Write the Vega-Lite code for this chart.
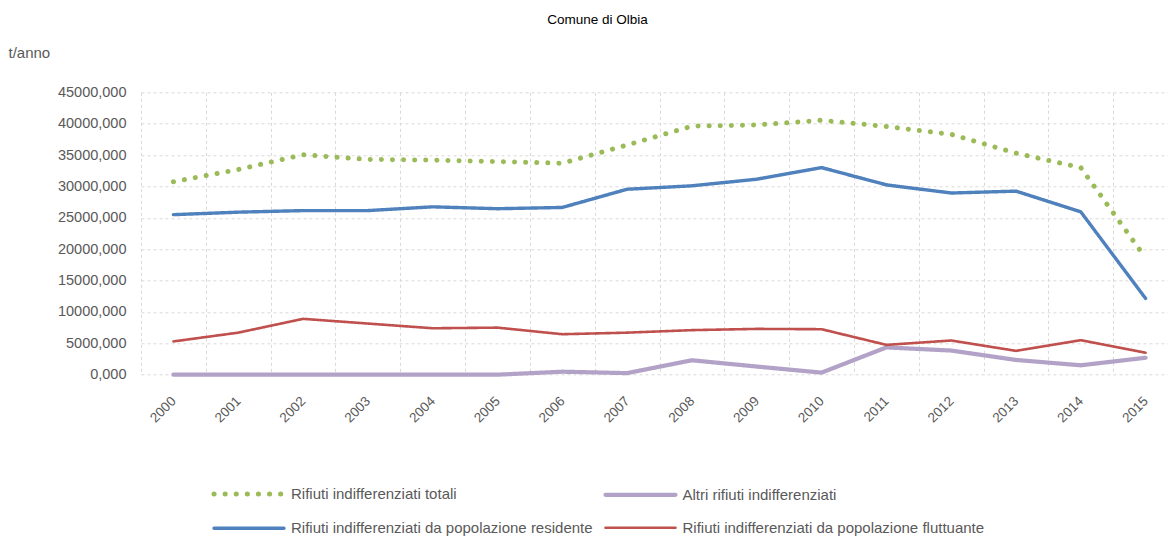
{
  "$schema": "https://vega.github.io/schema/vega-lite/v6.json",
  "autosize": {"type": "none"},
  "width": 1037,
  "height": 282.4,
  "padding": {"left": 141, "top": 92.3, "right": 0, "bottom": 163.3},
  "background": "white",
  "title": {
    "text": "Comune di Olbia",
    "font": "Liberation Sans",
    "fontSize": 13.5,
    "fontWeight": "normal",
    "color": "#000000",
    "anchor": "middle",
    "frame": "group",
    "dx": -62,
    "offset": 19
  },
  "config": {
    "locale": {"number": {"decimal": ",", "thousands": ".", "grouping": [3], "currency": ["€", ""]}},
    "view": {"stroke": null}
  },
  "data": {
    "values": [
      {"anno": "2000", "serie": "Rifiuti indifferenziati totali", "valore": 30750},
      {"anno": "2001", "serie": "Rifiuti indifferenziati totali", "valore": 32700},
      {"anno": "2002", "serie": "Rifiuti indifferenziati totali", "valore": 35050},
      {"anno": "2003", "serie": "Rifiuti indifferenziati totali", "valore": 34300},
      {"anno": "2004", "serie": "Rifiuti indifferenziati totali", "valore": 34200},
      {"anno": "2005", "serie": "Rifiuti indifferenziati totali", "valore": 33950},
      {"anno": "2006", "serie": "Rifiuti indifferenziati totali", "valore": 33700},
      {"anno": "2007", "serie": "Rifiuti indifferenziati totali", "valore": 36600},
      {"anno": "2008", "serie": "Rifiuti indifferenziati totali", "valore": 39600},
      {"anno": "2009", "serie": "Rifiuti indifferenziati totali", "valore": 39800},
      {"anno": "2010", "serie": "Rifiuti indifferenziati totali", "valore": 40550},
      {"anno": "2011", "serie": "Rifiuti indifferenziati totali", "valore": 39550},
      {"anno": "2012", "serie": "Rifiuti indifferenziati totali", "valore": 38300},
      {"anno": "2013", "serie": "Rifiuti indifferenziati totali", "valore": 35300},
      {"anno": "2014", "serie": "Rifiuti indifferenziati totali", "valore": 33000},
      {"anno": "2015", "serie": "Rifiuti indifferenziati totali", "valore": 18600},
      {"anno": "2000", "serie": "Altri rifiuti indifferenziati", "valore": 0},
      {"anno": "2001", "serie": "Altri rifiuti indifferenziati", "valore": 0},
      {"anno": "2002", "serie": "Altri rifiuti indifferenziati", "valore": 0},
      {"anno": "2003", "serie": "Altri rifiuti indifferenziati", "valore": 0},
      {"anno": "2004", "serie": "Altri rifiuti indifferenziati", "valore": 0},
      {"anno": "2005", "serie": "Altri rifiuti indifferenziati", "valore": 0},
      {"anno": "2006", "serie": "Altri rifiuti indifferenziati", "valore": 480},
      {"anno": "2007", "serie": "Altri rifiuti indifferenziati", "valore": 250},
      {"anno": "2008", "serie": "Altri rifiuti indifferenziati", "valore": 2300},
      {"anno": "2009", "serie": "Altri rifiuti indifferenziati", "valore": 1300},
      {"anno": "2010", "serie": "Altri rifiuti indifferenziati", "valore": 330},
      {"anno": "2011", "serie": "Altri rifiuti indifferenziati", "valore": 4350},
      {"anno": "2012", "serie": "Altri rifiuti indifferenziati", "valore": 3850},
      {"anno": "2013", "serie": "Altri rifiuti indifferenziati", "valore": 2350},
      {"anno": "2014", "serie": "Altri rifiuti indifferenziati", "valore": 1500},
      {"anno": "2015", "serie": "Altri rifiuti indifferenziati", "valore": 2700},
      {"anno": "2000", "serie": "Rifiuti indifferenziati da popolazione residente", "valore": 25500},
      {"anno": "2001", "serie": "Rifiuti indifferenziati da popolazione residente", "valore": 25900},
      {"anno": "2002", "serie": "Rifiuti indifferenziati da popolazione residente", "valore": 26150},
      {"anno": "2003", "serie": "Rifiuti indifferenziati da popolazione residente", "valore": 26150},
      {"anno": "2004", "serie": "Rifiuti indifferenziati da popolazione residente", "valore": 26750},
      {"anno": "2005", "serie": "Rifiuti indifferenziati da popolazione residente", "valore": 26450},
      {"anno": "2006", "serie": "Rifiuti indifferenziati da popolazione residente", "valore": 26650},
      {"anno": "2007", "serie": "Rifiuti indifferenziati da popolazione residente", "valore": 29550},
      {"anno": "2008", "serie": "Rifiuti indifferenziati da popolazione residente", "valore": 30100},
      {"anno": "2009", "serie": "Rifiuti indifferenziati da popolazione residente", "valore": 31150},
      {"anno": "2010", "serie": "Rifiuti indifferenziati da popolazione residente", "valore": 33000},
      {"anno": "2011", "serie": "Rifiuti indifferenziati da popolazione residente", "valore": 30250},
      {"anno": "2012", "serie": "Rifiuti indifferenziati da popolazione residente", "valore": 28950},
      {"anno": "2013", "serie": "Rifiuti indifferenziati da popolazione residente", "valore": 29250},
      {"anno": "2014", "serie": "Rifiuti indifferenziati da popolazione residente", "valore": 25950},
      {"anno": "2015", "serie": "Rifiuti indifferenziati da popolazione residente", "valore": 12150},
      {"anno": "2000", "serie": "Rifiuti indifferenziati da popolazione fluttuante", "valore": 5300},
      {"anno": "2001", "serie": "Rifiuti indifferenziati da popolazione fluttuante", "valore": 6700},
      {"anno": "2002", "serie": "Rifiuti indifferenziati da popolazione fluttuante", "valore": 8900},
      {"anno": "2003", "serie": "Rifiuti indifferenziati da popolazione fluttuante", "valore": 8150},
      {"anno": "2004", "serie": "Rifiuti indifferenziati da popolazione fluttuante", "valore": 7400},
      {"anno": "2005", "serie": "Rifiuti indifferenziati da popolazione fluttuante", "valore": 7500},
      {"anno": "2006", "serie": "Rifiuti indifferenziati da popolazione fluttuante", "valore": 6450},
      {"anno": "2007", "serie": "Rifiuti indifferenziati da popolazione fluttuante", "valore": 6700},
      {"anno": "2008", "serie": "Rifiuti indifferenziati da popolazione fluttuante", "valore": 7100},
      {"anno": "2009", "serie": "Rifiuti indifferenziati da popolazione fluttuante", "valore": 7300},
      {"anno": "2010", "serie": "Rifiuti indifferenziati da popolazione fluttuante", "valore": 7250},
      {"anno": "2011", "serie": "Rifiuti indifferenziati da popolazione fluttuante", "valore": 4750},
      {"anno": "2012", "serie": "Rifiuti indifferenziati da popolazione fluttuante", "valore": 5450},
      {"anno": "2013", "serie": "Rifiuti indifferenziati da popolazione fluttuante", "valore": 3800},
      {"anno": "2014", "serie": "Rifiuti indifferenziati da popolazione fluttuante", "valore": 5500},
      {"anno": "2015", "serie": "Rifiuti indifferenziati da popolazione fluttuante", "valore": 3500}
    ]
  },
  "mark": {"type": "line", "strokeCap": "round", "strokeJoin": "round"},
  "encoding": {
    "x": {
      "field": "anno",
      "type": "ordinal",
      "scale": {"type": "band", "paddingInner": 0, "paddingOuter": 0},
      "axis": {
        "title": null,
        "grid": true,
        "tickBand": "extent",
        "gridColor": "#d9d9d9",
        "gridDash": [3, 3],
        "gridWidth": 1,
        "ticks": false,
        "domain": false,
        "labelAngle": -45,
        "labelAlign": "right",
        "labelBaseline": "middle",
        "labelPadding": 24,
        "labelFont": "Liberation Sans",
        "labelFontSize": 13.5,
        "labelColor": "#595959"
      }
    },
    "y": {
      "field": "valore",
      "type": "quantitative",
      "scale": {"domain": [0, 45000], "nice": false, "zero": true},
      "axis": {
        "values": [0, 5000, 10000, 15000, 20000, 25000, 30000, 35000, 40000, 45000],
        "format": ".3f",
        "grid": true,
        "gridColor": "#d9d9d9",
        "gridDash": [3, 3],
        "gridWidth": 1,
        "ticks": false,
        "domain": false,
        "labelPadding": 15,
        "labelFont": "Liberation Sans",
        "labelFontSize": 14.5,
        "labelColor": "#595959",
        "title": "t/anno",
        "titleAngle": 0,
        "titleAlign": "left",
        "titleBaseline": "middle",
        "titleX": -133,
        "titleY": -40,
        "titleFont": "Liberation Sans",
        "titleFontSize": 15,
        "titleFontWeight": "normal",
        "titleColor": "#595959"
      }
    },
    "color": {
      "field": "serie",
      "type": "nominal",
      "title": null,
      "scale": {
        "domain": ["Rifiuti indifferenziati totali", "Altri rifiuti indifferenziati", "Rifiuti indifferenziati da popolazione residente", "Rifiuti indifferenziati da popolazione fluttuante"],
        "range": ["#9BBB59", "#B3A2C7", "#4F81BD", "#C0504D"]
      },
      "legend": {
        "orient": "none",
        "direction": "horizontal",
        "legendX": 95.5,
        "legendY": 389,
        "columns": 2,
        "symbolType": "M-3.5,0H3.5",
        "symbolSize": 400,
        "labelFont": "Liberation Sans",
        "labelFontSize": 15,
        "labelColor": "#595959",
        "labelOffset": 29.5,
        "labelLimit": 500,
        "columnPadding": 3.5,
        "rowPadding": 12,
        "encode": {"symbols": {"update": {"strokeCap": {"value": "round"}}}}
      }
    },
    "strokeDash": {
      "field": "serie",
      "type": "nominal",
      "title": null,
      "scale": {
        "domain": ["Rifiuti indifferenziati totali", "Altri rifiuti indifferenziati", "Rifiuti indifferenziati da popolazione residente", "Rifiuti indifferenziati da popolazione fluttuante"],
        "range": [[0.1, 11], [1, 0], [1, 0], [1, 0]]
      }
    },
    "strokeWidth": {
      "field": "serie",
      "type": "nominal",
      "title": null,
      "scale": {
        "domain": ["Rifiuti indifferenziati totali", "Altri rifiuti indifferenziati", "Rifiuti indifferenziati da popolazione residente", "Rifiuti indifferenziati da popolazione fluttuante"],
        "range": [5, 2.6, 2.6, 2.6]
      }
    }
  }
}
